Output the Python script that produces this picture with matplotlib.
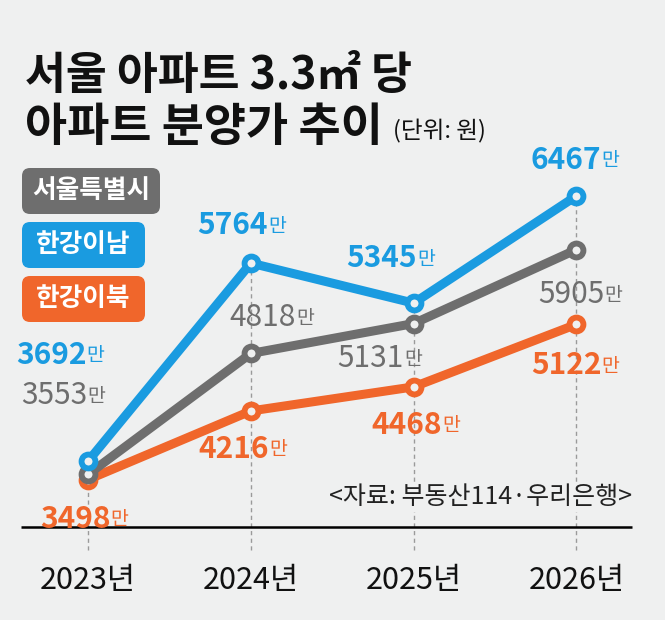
import matplotlib
matplotlib.use("Agg")
import matplotlib.pyplot as plt
from matplotlib.patches import FancyBboxPatch

plt.rcParams['font.family'] = ['Noto Sans CJK KR', 'DejaVu Sans']

# 데이터 (단위: 만원, 3.3㎡당)
years = ['2023년', '2024년', '2025년', '2026년']
seoul = [3553, 4818, 5131, 5905]
south = [3692, 5764, 5345, 6467]
north = [3498, 4216, 4468, 5122]

series_names = ['서울특별시', '한강이남', '한강이북']

BG = '#eff0f0'
GRAY = '#6e6e6e'
BLUE = '#1a9be0'
ORANGE = '#f0662b'

W, H = 665, 620
fig = plt.figure(figsize=(W / 100, H / 100), dpi=100, facecolor=BG)
ax = fig.add_axes([0, 0, 1, 1])
ax.set_facecolor(BG)
ax.set_xlim(-0.542, 3.545)
ax.set_ylim(2027, 8519)
ax.axis('off')


def fx(px):
    return px / W


def fy(py):
    return 1 - py / H


x = list(range(len(years)))

# 세로 점선
tops = [max(a, b, c) for a, b, c in zip(seoul, south, north)]
ax.vlines(x, 2760, tops, colors='#9a9a9a', linestyles=(0, (3, 2.5)), lw=1, zorder=1)

# 기준선
ax.plot([-0.41, 3.34], [3000, 3000], color='black', lw=1.8, zorder=2,
        solid_capstyle='butt')

for vals, col, z in [(north, ORANGE, 3), (seoul, GRAY, 4), (south, BLUE, 5)]:
    ax.plot(x, vals, color=col, lw=6.5, zorder=z, solid_joinstyle='round',
            marker='o', ms=10, mew=4.2, mfc=BG, mec=col)


def label(xi, v, dx, dy, col, weight):
    kw = dict(xy=(xi, v), textcoords='offset pixels', va='center', color=col, zorder=8)
    ax.annotate(f'{v}', xytext=(dx, dy), ha='right', fontsize=21.5, weight=weight, **kw)
    ax.annotate('만', xytext=(dx + 0.5, dy - 1), ha='left', fontsize=14, **kw)


south_off = [(-2, 106), (17, 38), (3, 45), (25, 36)]
seoul_off = [(-1, 79), (45, 36), (-10, -35), (28, -45)]
north_off = [(22, -39), (18, -38), (28, -38), (25, -41)]
for vals, offs, col, wt in [(south, south_off, BLUE, 'bold'),
                            (seoul, seoul_off, GRAY, 'medium'),
                            (north, north_off, ORANGE, 'bold')]:
    for xi, v, (dx, dy) in zip(x, vals, offs):
        label(xi, v, dx, dy, col, wt)

# x축 연도
for xi, yr in zip(x, years):
    ax.text(xi, 2440, yr, ha='center', va='center', fontsize=22, color='#111111')

# 제목
fig.text(fx(25), fy(76), '서울 아파트 3.3㎡ 당', fontsize=32, weight='bold',
         va='center', ha='left', color='#111111')
fig.text(fx(25), fy(128), '아파트 분양가 추이', fontsize=33, weight='bold',
         va='center', ha='left', color='#111111')
fig.text(fx(393), fy(131), '(단위: 원)', fontsize=17, va='center', ha='left',
         color='#111111')

# 범례 박스
legend_boxes = [(GRAY, 168, 138), (BLUE, 222, 123), (ORANGE, 276, 123)]
for name, (col, top, wid) in zip(series_names, legend_boxes):
    box = FancyBboxPatch((fx(22), fy(top + 46)), fx(wid), 46 / H,
                         boxstyle='round,pad=0,rounding_size=0.012',
                         transform=fig.transFigure, facecolor=col, edgecolor='none',
                         mutation_aspect=W / H)
    fig.patches.append(box)
    fig.text(fx(22 + wid / 2), fy(top + 23), name, fontsize=18.5, weight='bold',
             color='white', ha='center', va='center')

# 출처
fig.text(fx(632), fy(497), '<자료: 부동산114·우리은행>', fontsize=18, ha='right',
         va='center', color='#222222',
         bbox=dict(facecolor=BG, edgecolor='none', pad=1))

fig.savefig('out.png', dpi=100, facecolor=BG)
